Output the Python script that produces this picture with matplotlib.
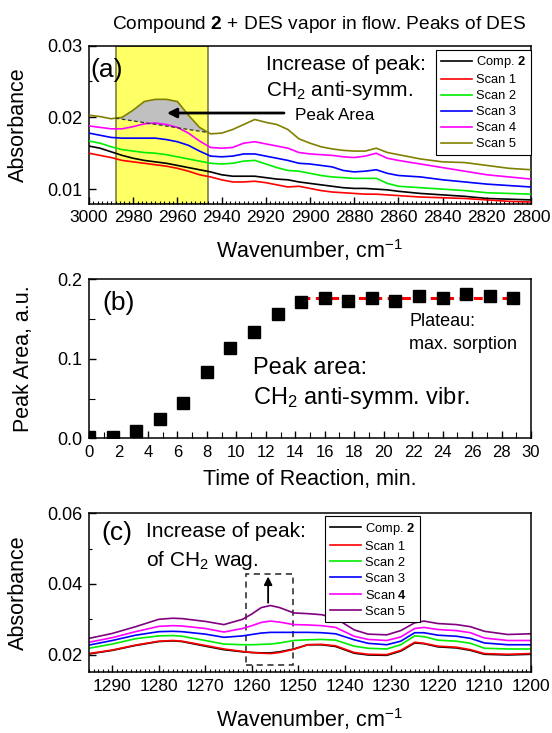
import numpy as np
import matplotlib
matplotlib.use('Agg')
import matplotlib.pyplot as plt
from matplotlib.ticker import MultipleLocator, FormatStrFormatter
from matplotlib.patches import Rectangle

plt.rcParams['font.family'] = ['Liberation Sans', 'DejaVu Sans']
plt.rcParams['mathtext.fontset'] = 'custom'
plt.rcParams['mathtext.rm'] = 'Liberation Sans'
plt.rcParams['mathtext.it'] = 'Liberation Sans:italic'
plt.rcParams['mathtext.bf'] = 'Liberation Sans:bold'

# ---- panel (a): CH2 anti-symmetric stretching region ----
wn_a = [3000, 2995, 2990, 2985, 2980, 2975, 2970, 2965, 2960, 2955, 2950, 2945,
        2940, 2935, 2930, 2925, 2920, 2915, 2910, 2905, 2900, 2895, 2890, 2885,
        2880, 2875, 2870, 2865, 2860, 2850, 2840, 2830, 2820, 2810, 2800]
comp2_a = [0.0160, 0.0157, 0.0152, 0.0147, 0.0143, 0.0140, 0.0138, 0.0136, 0.0133, 0.0130,
           0.0127, 0.0124, 0.0120, 0.0118, 0.0118, 0.0118, 0.0116, 0.0114, 0.0113, 0.0110,
           0.0108, 0.0106, 0.0104, 0.0102, 0.0101, 0.0101, 0.0100, 0.0099, 0.0097, 0.0094,
           0.0092, 0.0090, 0.0087, 0.0086, 0.0085]
scan1_a = [0.0150, 0.0147, 0.0144, 0.0140, 0.0138, 0.0136, 0.0134, 0.0132, 0.0129, 0.0125,
           0.0120, 0.0117, 0.0113, 0.0110, 0.0110, 0.0111, 0.0109, 0.0106, 0.0103, 0.0104,
           0.0101, 0.0098, 0.0096, 0.0095, 0.0094, 0.0093, 0.0093, 0.0092, 0.0091, 0.0089,
           0.0088, 0.0087, 0.0085, 0.0083, 0.0082]
scan2_a = [0.0167, 0.0164, 0.0159, 0.0155, 0.0153, 0.0151, 0.0150, 0.0148, 0.0145, 0.0142,
           0.0139, 0.0136, 0.0135, 0.0136, 0.0139, 0.0140, 0.0135, 0.0130, 0.0126, 0.0125,
           0.0122, 0.0119, 0.0117, 0.0116, 0.0115, 0.0115, 0.0115, 0.0108, 0.0104, 0.0102,
           0.0100, 0.0098, 0.0095, 0.0094, 0.0093]
scan3_a = [0.0178, 0.0175, 0.0172, 0.0171, 0.0171, 0.0171, 0.0171, 0.0169, 0.0166, 0.0161,
           0.0153, 0.0146, 0.0145, 0.0146, 0.0149, 0.0149, 0.0146, 0.0143, 0.0140, 0.0136,
           0.0135, 0.0133, 0.0131, 0.0126, 0.0124, 0.0125, 0.0127, 0.0122, 0.0119, 0.0117,
           0.0113, 0.0110, 0.0107, 0.0105, 0.0103]
scan4_a = [0.0188, 0.0186, 0.0184, 0.0184, 0.0187, 0.0191, 0.0192, 0.0190, 0.0186, 0.0178,
           0.0167, 0.0158, 0.0157, 0.0158, 0.0164, 0.0166, 0.0163, 0.0160, 0.0157, 0.0151,
           0.0149, 0.0148, 0.0147, 0.0145, 0.0144, 0.0146, 0.0150, 0.0143, 0.0140, 0.0135,
           0.0130, 0.0125, 0.0120, 0.0117, 0.0114]
scan5_a = [0.0203, 0.0201, 0.0198, 0.0200, 0.0210, 0.0222, 0.0225, 0.0225, 0.0222, 0.0203,
           0.0186, 0.0177, 0.0178, 0.0183, 0.0190, 0.0197, 0.0193, 0.0190, 0.0183, 0.0170,
           0.0164, 0.0159, 0.0156, 0.0154, 0.0153, 0.0153, 0.0157, 0.0151, 0.0148, 0.0142,
           0.0138, 0.0137, 0.0133, 0.0129, 0.0127]
peak_window = (2988, 2946)

# ---- panel (b): peak area vs time ----
time_min = [0, 1.6, 3.2, 4.8, 6.4, 8.0, 9.6, 11.2, 12.8, 14.4, 16.0, 17.6, 19.2,
            20.8, 22.4, 24.0, 25.6, 27.2, 28.8]
peak_area = [0.002, 0.002, 0.009, 0.024, 0.044, 0.084, 0.113, 0.134, 0.156, 0.172,
             0.177, 0.173, 0.176, 0.173, 0.179, 0.176, 0.181, 0.179, 0.176]
plateau_start = 9  # index where plateau begins

# ---- panel (c): CH2 wagging region ----
wn_c = [1295, 1290, 1285, 1280, 1277, 1275, 1270, 1266, 1262, 1260, 1258, 1256, 1254,
        1251, 1248, 1245, 1242, 1238, 1235, 1231, 1228, 1225, 1223, 1220, 1216, 1213,
        1210, 1205, 1200]
comp2_c = [0.0202, 0.0212, 0.0226, 0.0237, 0.0239, 0.0237, 0.0224, 0.0214, 0.0208, 0.0206,
           0.0205, 0.0205, 0.0208, 0.0216, 0.0228, 0.0228, 0.0223, 0.0204, 0.0199, 0.0198,
           0.0210, 0.0233, 0.0231, 0.0222, 0.0219, 0.0212, 0.0201, 0.0199, 0.0201]
scan1_c = [0.0203, 0.0213, 0.0227, 0.0238, 0.0240, 0.0238, 0.0226, 0.0216, 0.0209, 0.0206,
           0.0204, 0.0203, 0.0206, 0.0215, 0.0228, 0.0229, 0.0225, 0.0206, 0.0201, 0.0200,
           0.0212, 0.0235, 0.0232, 0.0224, 0.0221, 0.0214, 0.0203, 0.0201, 0.0203]
scan2_c = [0.0218, 0.0230, 0.0245, 0.0253, 0.0254, 0.0252, 0.0240, 0.0230, 0.0228, 0.0228,
           0.0229, 0.0230, 0.0233, 0.0240, 0.0242, 0.0243, 0.0241, 0.0224, 0.0218, 0.0216,
           0.0228, 0.0253, 0.0251, 0.0241, 0.0238, 0.0232, 0.0218, 0.0216, 0.0216]
scan3_c = [0.0227, 0.0240, 0.0255, 0.0265, 0.0266, 0.0265, 0.0258, 0.0249, 0.0253, 0.0257,
           0.0261, 0.0263, 0.0263, 0.0263, 0.0263, 0.0262, 0.0259, 0.0242, 0.0232, 0.0228,
           0.0238, 0.0262, 0.0262, 0.0255, 0.0252, 0.0246, 0.0233, 0.0228, 0.0228]
scan4_c = [0.0235, 0.0248, 0.0265, 0.0280, 0.0282, 0.0281, 0.0274, 0.0264, 0.0274, 0.0282,
           0.0291, 0.0295, 0.0292, 0.0285, 0.0284, 0.0282, 0.0277, 0.0252, 0.0243, 0.0240,
           0.0250, 0.0274, 0.0277, 0.0271, 0.0268, 0.0262, 0.0247, 0.0240, 0.0240]
scan5_c = [0.0246, 0.0260, 0.0279, 0.0300, 0.0303, 0.0302, 0.0294, 0.0285, 0.0300, 0.0315,
           0.0333, 0.0339, 0.0333, 0.0318, 0.0316, 0.0313, 0.0303, 0.0270, 0.0258, 0.0256,
           0.0268, 0.0290, 0.0295, 0.0288, 0.0285, 0.0279, 0.0266, 0.0257, 0.0259]

labels_a = ['Comp. $\\mathbf{2}$', 'Scan 1', 'Scan 2', 'Scan 3', 'Scan 4', 'Scan 5']
labels_c = ['Comp. $\\mathbf{2}$', 'Scan 1', 'Scan 2', 'Scan 3', 'Scan $\\mathbf{4}$', 'Scan 5']
colors_a = ['black', '#ff0000', '#00ee00', '#0000ff', '#ff00ff', '#808000']
colors_c = ['black', '#ff0000', '#00ee00', '#0000ff', '#ff00ff', '#800080']

W, H = 552, 733
fig = plt.figure(figsize=(W / 100, H / 100), dpi=100)


def axes_px(left, top, right, bottom):
    return fig.add_axes([left / W, 1 - bottom / H, (right - left) / W, (bottom - top) / H])


def style_axes(ax):
    for sp in ax.spines.values():
        sp.set_linewidth(1.1)
    ax.tick_params(which='both', direction='in', top=False, right=False, pad=5)
    ax.tick_params(axis='x', labelsize=12.5)
    ax.tick_params(axis='y', labelsize=13)
    ax.tick_params(which='major', length=5, width=1)
    ax.tick_params(which='minor', length=2.5, width=0.8)


def add_legend(ax, anchor):
    leg = ax.legend(loc='upper right', bbox_to_anchor=anchor, borderaxespad=0, fontsize=9.3,
                    frameon=True, fancybox=False, edgecolor='black', framealpha=1,
                    handlelength=2.4, handletextpad=0.35, labelspacing=0.3, borderpad=0.35)
    leg.get_frame().set_linewidth(0.8)
    return leg


ax_a = axes_px(89, 45.5, 531, 203.5)
ax_b = axes_px(89, 279.3, 531, 438.3)
ax_c = axes_px(89, 513.3, 531, 672.3)

# ---------------- (a) ----------------
ax_a.axvspan(peak_window[0], peak_window[1], facecolor='#ffff66', edgecolor='#7f7f3f', lw=1.2, zorder=0)
for ys, c, lab in zip([comp2_a, scan1_a, scan2_a, scan3_a, scan4_a, scan5_a], colors_a, labels_a):
    ax_a.plot(wn_a, ys, color=c, lw=1.2, label=lab, zorder=3)

# peak area under scan 5 above a linear baseline
wn_arr = np.array(wn_a)
s5 = np.array(scan5_a)
inside = (wn_arr <= peak_window[0]) & (wn_arr >= peak_window[1])
xs = np.concatenate([[peak_window[0]], wn_arr[inside], [peak_window[1]]])
ys5 = np.interp(xs, wn_arr[::-1], s5[::-1])
base = np.interp(xs, [peak_window[1], peak_window[0]], [ys5[-1], ys5[0]])
ax_a.fill_between(xs, ys5, base, where=ys5 >= base, facecolor='#c0c0c0', zorder=2)
ax_a.plot([xs[0], xs[-1]], [ys5[0], ys5[-1]], color='#333333', lw=0.9, ls=(0, (3, 2)), zorder=4)

ax_a.set_xlim(3000, 2800)
ax_a.set_ylim(0.008, 0.03)
ax_a.xaxis.set_major_locator(MultipleLocator(20))
ax_a.xaxis.set_minor_locator(MultipleLocator(2))
ax_a.yaxis.set_major_locator(MultipleLocator(0.01))
ax_a.yaxis.set_minor_locator(MultipleLocator(0.005))
ax_a.yaxis.set_major_formatter(FormatStrFormatter('%.2f'))
style_axes(ax_a)
ax_a.set_xlabel('Wavenumber, cm$^{-1}$', fontsize=15.5)
ax_a.set_ylabel('Absorbance', fontsize=15.5)
ax_a.xaxis.set_label_coords(0.5, -0.21)
ax_a.yaxis.set_label_coords(-0.135, 0.5)

ax_a.text(0.002, 0.845, '(a)', transform=ax_a.transAxes, fontsize=19, va='center', ha='left')
ax_a.text(0.40, 0.877, 'Increase of peak:', transform=ax_a.transAxes, fontsize=15, va='center')
ax_a.text(0.40, 0.715, 'CH$_2$ anti-symm.', transform=ax_a.transAxes, fontsize=15, va='center')
ax_a.text(0.466, 0.554, 'Peak Area', transform=ax_a.transAxes, fontsize=12.3, va='center')
ax_a.annotate('', xy=(2966, 0.0206), xytext=(2910.5, 0.0206),
              arrowprops=dict(arrowstyle='-|>', color='black', lw=2, mutation_scale=14), zorder=5)

add_legend(ax_a, (1.0, 0.972))

fig.text(0.578, 0.966, 'Compound $\\mathbf{2}$ + DES vapor in flow. Peaks of DES',
         ha='center', va='center', fontsize=13.8)

# ---------------- (b) ----------------
t = np.array(time_min)
pa = np.array(peak_area)
plateau = pa[plateau_start:].mean()
ax_b.plot([t[plateau_start], t[-1]], [plateau, plateau], color='#ff0000', lw=2.2,
          dashes=(2.9, 1.8), zorder=2)
ax_b.plot(t, pa, ls='none', marker='s', ms=8.5, color='black', zorder=3)
ax_b.set_xlim(0, 30)
ax_b.set_ylim(0, 0.2)
ax_b.xaxis.set_major_locator(MultipleLocator(2))
ax_b.xaxis.set_minor_locator(MultipleLocator(1))
ax_b.yaxis.set_major_locator(MultipleLocator(0.1))
ax_b.yaxis.set_minor_locator(MultipleLocator(0.05))
ax_b.yaxis.set_major_formatter(FormatStrFormatter('%.1f'))
style_axes(ax_b)
ax_b.tick_params(axis='x', labelsize=12)
ax_b.tick_params(which='minor', length=4)
ax_b.set_xlabel('Time of Reaction, min.', fontsize=15.5)
ax_b.set_ylabel('Peak Area, a.u.', fontsize=15.5)
ax_b.xaxis.set_label_coords(0.5, -0.19)
ax_b.yaxis.set_label_coords(-0.125, 0.5)

ax_b.text(0.031, 0.852, '(b)', transform=ax_b.transAxes, fontsize=19, va='center')
ax_b.text(0.371, 0.442, 'Peak area:', transform=ax_b.transAxes, fontsize=17, va='center')
ax_b.text(0.371, 0.253, 'CH$_2$ anti-symm. vibr.', transform=ax_b.transAxes, fontsize=17, va='center')
ax_b.text(0.724, 0.733, 'Plateau:', transform=ax_b.transAxes, fontsize=13, va='center')
ax_b.text(0.724, 0.593, 'max. sorption', transform=ax_b.transAxes, fontsize=13, va='center')

# ---------------- (c) ----------------
for ys, c, lab in zip([comp2_c, scan1_c, scan2_c, scan3_c, scan4_c, scan5_c], colors_c, labels_c):
    ax_c.plot(wn_c, ys, color=c, lw=1.2, label=lab)

ax_c.add_patch(Rectangle((1261.2, 0.017), -10.1, 0.0257, fill=False, ls=(0, (4, 3)),
                         lw=1.1, edgecolor='#222222'))
ax_c.annotate('', xy=(1256.5, 0.0429), xytext=(1256.5, 0.0339),
              arrowprops=dict(arrowstyle='-|>', color='black', lw=1.3, mutation_scale=12))

ax_c.set_xlim(1295, 1200)
ax_c.set_ylim(0.015, 0.06)
ax_c.xaxis.set_major_locator(MultipleLocator(10))
ax_c.xaxis.set_minor_locator(MultipleLocator(1))
ax_c.yaxis.set_major_locator(MultipleLocator(0.02))
ax_c.yaxis.set_minor_locator(MultipleLocator(0.01))
ax_c.yaxis.set_major_formatter(FormatStrFormatter('%.2f'))
style_axes(ax_c)
ax_c.set_xlabel('Wavenumber, cm$^{-1}$', fontsize=15.5)
ax_c.set_ylabel('Absorbance', fontsize=15.5)
ax_c.xaxis.set_label_coords(0.5, -0.21)
ax_c.yaxis.set_label_coords(-0.135, 0.5)

ax_c.text(0.0285, 0.877, '(c)', transform=ax_c.transAxes, fontsize=19, va='center')
ax_c.text(0.128, 0.884, 'Increase of peak:', transform=ax_c.transAxes, fontsize=15, va='center')
ax_c.text(0.128, 0.706, 'of CH$_2$ wag.', transform=ax_c.transAxes, fontsize=15, va='center')

add_legend(ax_c, (0.749, 0.98))

fig.savefig('out.png', dpi=100)
